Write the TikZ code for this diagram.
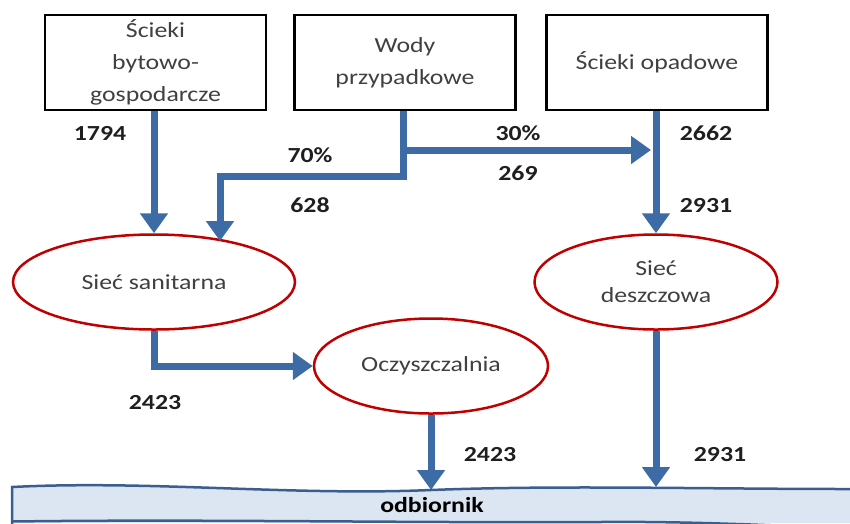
\documentclass[tikz,border=0pt]{standalone}
\usepackage{fontspec}
\setmainfont{Carlito}[FakeStretch=1.2]
\usetikzlibrary{arrows.meta,shapes.geometric}
\definecolor{flow}{HTML}{3C6BA5}
\definecolor{ered}{HTML}{C00000}
\definecolor{bandfill}{HTML}{DCE6F2}
\definecolor{bandline}{HTML}{3A5F8F}
\definecolor{txt}{HTML}{404040}
\begin{document}
\begin{tikzpicture}[x=1pt,y=-1pt,
  srcbox/.style={draw=black, line width=2.5pt, minimum width=221pt, minimum height=95pt,
    align=center, text=txt, font=\fontsize{21.5}{32}\selectfont, inner sep=0pt},
  net/.style={draw=ered, ellipse, line width=2.5pt, align=center, text=txt,
    font=\fontsize{21.5}{27}\selectfont, inner sep=0pt},
  flowarrow/.style={draw=flow, line width=7pt, -{Triangle[width=27pt,length=20pt]}},
  num/.style={font=\bfseries\fontsize{21.5}{26}\selectfont, text=black!88},
  bandedge/.style={draw=bandline, line width=2.5pt}
]
\useasboundingbox (0,0) rectangle (850,523);

% receiving water body
\fill[bandfill] (12,523) -- (12,487) .. controls (150,480) and (290,496) .. (431,490)
  .. controls (560,485) and (700,489) .. (850,489) -- (850,523) -- cycle;
\draw[bandedge] (12,524) -- (12,487) .. controls (150,480) and (290,496) .. (431,490)
  .. controls (560,485) and (700,489) .. (850,489);
\draw[bandedge] (12,521.5) .. controls (200,519) and (400,523) .. (600,522)
  .. controls (700,521) and (800,527) .. (850,528);
\node[font=\bfseries\fontsize{21.5}{26}\selectfont, text=black] (odb) at (432,505) {odbiornik};

% sources
\node[srcbox] (b1) at (155.5,62.5) {Ścieki\\bytowo-\\gospodarcze};
\node[srcbox] (b2) at (405,62.5) {Wody\\przypadkowe};
\node[srcbox] (b3) at (657,62.5) {Ścieki opadowe};

% networks
\node[net, minimum width=282pt, minimum height=95pt] (san) at (154,282) {Sieć sanitarna};
\node[net, minimum width=243pt, minimum height=95pt] (desz) at (656,282) {Sieć\\deszczowa};
\node[net, minimum width=234pt, minimum height=95pt] (ocz) at (431,366) {Oczyszczalnia};

% helper coordinates
\coordinate (wturn) at (403,176);
\coordinate (wbr) at (403,150);
\coordinate (sanin) at (220,241);
\coordinate (dmerge) at (651,150);
\coordinate (in1) at (431,490);
\coordinate (in2) at (656,487);

% connectors
\draw[flowarrow] (b1.south -| san.north) -- (san.north);
\draw[flowarrow] (b2.south -| wturn) -- (wturn) -| (sanin);
\draw[flowarrow] (wbr) -- (dmerge);
\draw[flowarrow] (b3.south -| desz.north) -- (desz.north);
\draw[flowarrow] (san.south) |- (ocz.west);
\draw[flowarrow] (ocz.south) -- (in1);
\draw[flowarrow] (desz.south) -- (in2);

% numbers
\node[num] (n1794) at (100,133) {1794};
\node[num] (n70) at (310,155) {70\%};
\node[num] (n628) at (310,205) {628};
\node[num] (n30) at (518,133) {30\%};
\node[num] (n269) at (518,173) {269};
\node[num] (n2662) at (706,133) {2662};
\node[num] (n2931a) at (706,206) {2931};
\node[num] (n2423a) at (155,403) {2423};
\node[num] (n2423b) at (490,455) {2423};
\node[num] (n2931b) at (720,455) {2931};
\end{tikzpicture}
\end{document}
